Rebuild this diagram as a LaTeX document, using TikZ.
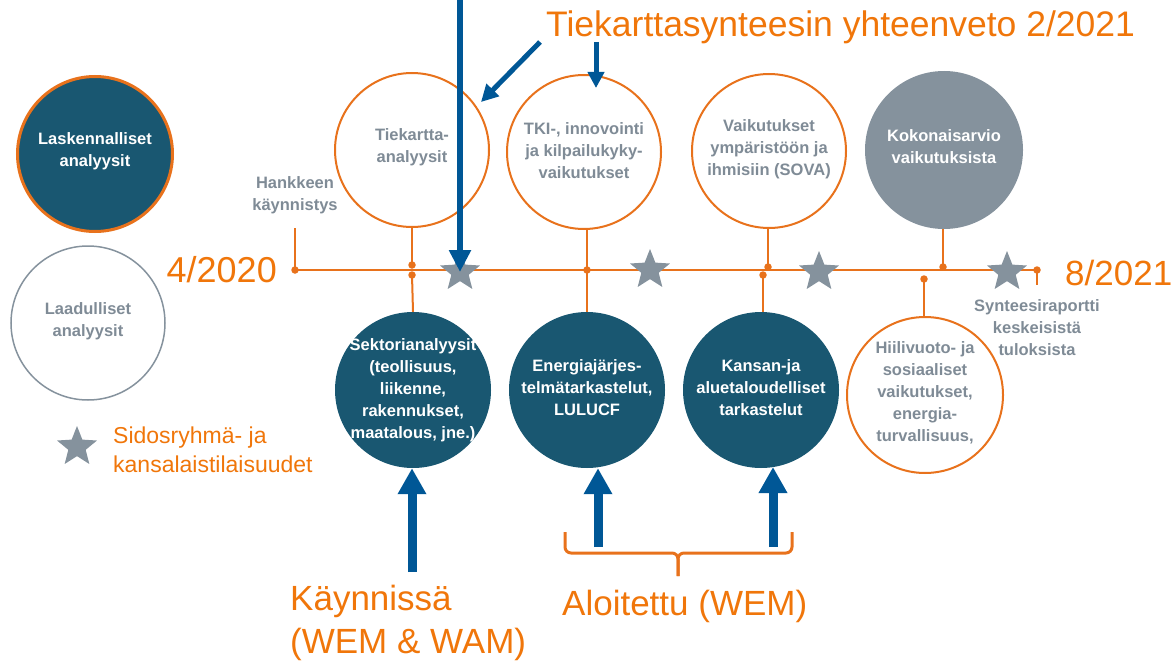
\documentclass[tikz,border=0pt]{standalone}
\usepackage{fontspec}
\setmainfont{Liberation Sans}
\usetikzlibrary{arrows.meta,shapes.geometric}
\definecolor{tlorange}{RGB}{232,114,28}
\definecolor{txorange}{RGB}{240,118,10}
\definecolor{cteal}{RGB}{25,87,113}
\definecolor{cgrey}{RGB}{133,146,157}
\definecolor{cgreytext}{RGB}{127,139,150}
\definecolor{cblue}{RGB}{0,87,150}
\begin{document}
\begin{tikzpicture}[x=1pt,y=-1pt,
  conn/.style={draw=tlorange,line width=2pt},
  dot/.style={circle,fill=tlorange,inner sep=0pt,minimum size=7.5pt},
  ocirc/.style={circle,draw=tlorange,line width=2pt,fill=white,minimum size=154pt,inner sep=0pt},
  tcirc/.style={circle,fill=cteal,minimum size=156pt,inner sep=0pt},
  gcirc/.style={circle,fill=cgrey,minimum size=158pt,inner sep=0pt},
  ctext/.style={align=center,font=\bfseries\fontsize{16.5}{22}\selectfont,inner sep=0pt},
  wtext/.style={ctext,text=white},
  gtext/.style={ctext,text=cgreytext},
  gstar/.style={star,star points=5,star point ratio=2.3,fill=cgrey,minimum size=42pt,inner sep=0pt},
  barrow/.style={draw=cblue,line width=9pt,-{Triangle[width=27pt,length=26pt]}},
  sarrow/.style={draw=cblue,line width=5pt,-{Triangle[width=17pt,length=17pt]}},
  otext/.style={text=txorange,inner sep=0pt}
]
\useasboundingbox (0,0) rectangle (1175,661);

% legend circles
\node[circle,fill=cteal,draw=tlorange,line width=3pt,minimum size=155pt,inner sep=0pt] (lask) at (95,154) {};
\node[wtext] (laskt) at (95,151) {Laskennalliset\\analyysit};
\node[circle,draw=cgrey,line width=1.5pt,minimum size=154pt,inner sep=0pt] (laad) at (88,323) {};
\node[gtext] (laadt) at (88,321) {Laadulliset\\analyysit};
\node[gstar] (lstar) at (77,447) {};
\node[otext,anchor=north west,align=left,font=\fontsize{23}{29}\selectfont] (legt) at (113,427) {Sidosryhmä- ja\\kansalaistilaisuudet};

% timeline
\node[dot] (d0) at (295,270) {};
\node[dot] (dE) at (1037,270) {};
\draw[conn] (d0.center) -- (dE.center);
\coordinate (hk) at (295,228);
\draw[conn] (hk) -- (d0.center);
\coordinate (eT) at (1037,285);
\draw[conn] (dE.center) -- (eT);
\node[gtext] (hankt) at (295,195) {Hankkeen\\käynnistys};
\node[otext,anchor=base east,font=\fontsize{36}{40}\selectfont] (start) at (277,282) {4/2020};
\node[otext,anchor=base west,font=\fontsize{35}{40}\selectfont] (end) at (1065,285) {8/2021};

% top circles
\node[ocirc] (tiek) at (412,150) {};
\node[gtext] (tiekt) at (412,147) {Tiekartta-\\analyysit};
\node[ocirc] (tki) at (584,152) {};
\node[gtext] (tkit) at (584,151) {TKI-, innovointi\\ja kilpailukyky-\\vaikutukset};
\node[ocirc] (vaik) at (769,151) {};
\node[gtext] (vaikt) at (769,149) {Vaikutukset\\ympäristöön ja\\ihmisiin (SOVA)};
\node[gcirc] (koko) at (944,150) {};
\node[wtext] (kokot) at (944,147) {Kokonaisarvio\\vaikutuksista};

% bottom circles
\node[tcirc] (sekt) at (413,390) {};
\node[wtext] (sektt) at (413,390) {Sektorianalyysit\\(teollisuus,\\liikenne,\\rakennukset,\\maatalous, jne.)};
\node[tcirc] (ener) at (587,390) {};
\node[wtext] (enert) at (587,388) {Energiajärjes-\\telmätarkastelut,\\LULUCF};
\node[tcirc] (kans) at (761,390) {};
\node[wtext] (kanst) at (761,388) {Kansan-ja\\aluetaloudelliset\\tarkastelut};
\node[circle,draw=tlorange,line width=2pt,fill=white,minimum size=156pt,inner sep=0pt] (hiil) at (925,395) {};
\node[gtext] (hiilt) at (925,393) {Hiilivuoto- ja\\sosiaaliset\\vaikutukset,\\energia-\\turvallisuus,};
\node[gtext] (synt) at (1037,328) {Synteesiraportti\\keskeisistä\\tuloksista};

% connectors
\node[dot] (d1) at (412,265) {};
\node[dot] (d2) at (412,275) {};
\node[dot] (d3) at (587,270) {};
\node[dot] (d4) at (768,267) {};
\node[dot] (d5) at (763,275) {};
\node[dot] (d6) at (943,267) {};
\node[dot] (d7) at (924,279) {};
\draw[conn] (tiek.south) -- (d1.center);
\draw[conn] (d2.center) -- (sekt.north);
\draw[conn] (tki.south -| d3) -- (d3.center);
\draw[conn] (d3.center) -- (ener.north);
\draw[conn] (vaik.south -| d4) -- (d4.center);
\draw[conn] (d5.center) -- (kans.north -| d5);
\draw[conn] (koko.south -| d6) -- (d6.center);
\draw[conn] (d7.center) -- (hiil.north -| d7);

% stars
\node[gstar] (s1) at (460,272) {};
\node[gstar] (s2) at (650,270) {};
\node[gstar] (s3) at (819,272) {};
\node[gstar] (s4) at (1007,272) {};

% title and arrows
\node[otext,anchor=base west,font=\fontsize{35.5}{40}\selectfont] (title) at (546,37) {Tiekarttasynteesin yhteenveto 2/2021};
\coordinate (vtop) at (460,-5);
\draw[draw=cblue,line width=6pt,-{Triangle[width=21pt,length=22pt]}] (vtop) -- (s1.center);
\coordinate (da) at (540,42);
\coordinate (dat) at (481,102);
\draw[sarrow] (da) -- (dat);
\coordinate (sa) at (596,42);
\coordinate (sat) at (596,88);
\draw[sarrow,-{Triangle[width=16pt,length=16pt]}] (sa) -- (sat);

% bottom arrows
\coordinate (ka) at (412,572);
\draw[barrow] (ka) -- (ka |- sekt.south);
\coordinate (ea) at (598,547);
\draw[barrow] (ea) -- (ea |- ener.south);
\coordinate (ta) at (773,547);
\draw[barrow] (ta) -- (773,467);

% brace
\coordinate (b1) at (565,532);
\coordinate (b2) at (792,532);
\coordinate (bh) at (678,553);
\coordinate (bm) at (678,576);
\draw[draw=tlorange,line width=3pt,rounded corners=6pt] (b1) |- (bh) -- (bm);
\draw[draw=tlorange,line width=3pt,rounded corners=6pt] (b2) |- (bh) -- (bm);

% labels
\node[otext,anchor=north west,align=left,font=\fontsize{35}{43}\selectfont] (kayn) at (290,585) {Käynnissä\\(WEM \& WAM)};
\node[otext,anchor=base west,font=\fontsize{35}{40}\selectfont] (alo) at (562,615) {Aloitettu (WEM)};
\end{tikzpicture}
\end{document}
